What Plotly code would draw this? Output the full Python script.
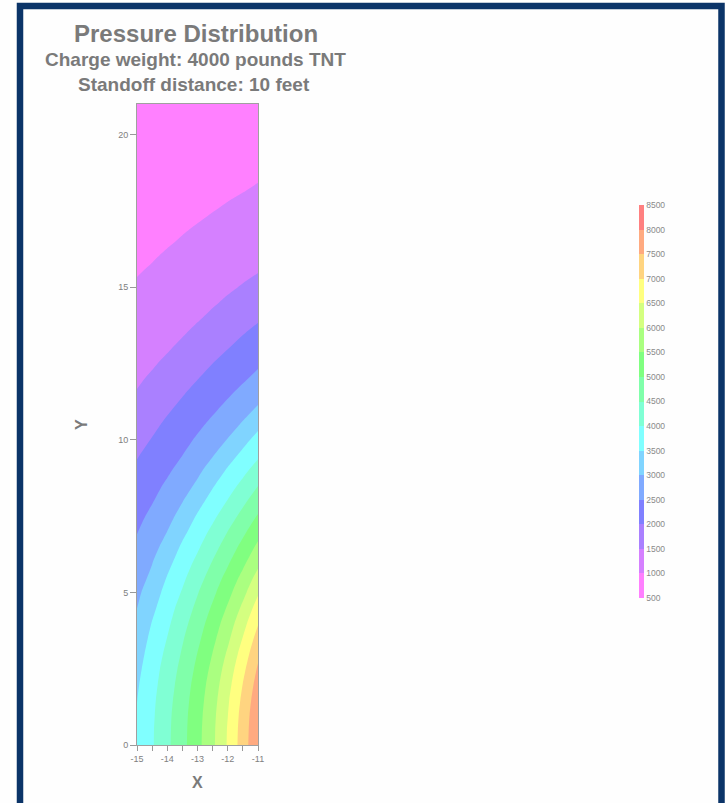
import colorsys
import plotly.graph_objects as go

# Grid coordinates (feet): 9 columns across, rows every half foot from 0 to 21
x_vals = [-15, -14.5, -14, -13.5, -13, -12.5, -12, -11.5, -11]
y_vals = [i * 0.5 for i in range(43)]

# Peak pressure down each column of the grid, listed from y = 0 up to y = 21
p_x150 = [3560, 3550, 3530, 3490, 3440, 3370, 3290, 3190, 3080, 2995, 2900, 2795, 2690, 2585, 2480,
          2375, 2270, 2175, 2070, 1970, 1860, 1750, 1640, 1530, 1440, 1360, 1280, 1205, 1150, 1085,
          1030, 985, 940, 900, 860, 825, 800, 775, 750, 725, 700, 680, 660]
p_x145 = [3950, 3945, 3920, 3890, 3840, 3785, 3710, 3625, 3520, 3390, 3250, 3095, 2980, 2850, 2720,
          2600, 2470, 2360, 2240, 2135, 2020, 1910, 1790, 1675, 1560, 1455, 1370, 1285, 1210, 1150,
          1090, 1030, 980, 935, 900, 855, 820, 795, 770, 740, 720, 695, 670]
p_x140 = [4400, 4390, 4370, 4330, 4270, 4200, 4110, 4010, 3900, 3790, 3670, 3520, 3350, 3160, 3000,
          2855, 2710, 2570, 2430, 2305, 2190, 2070, 1950, 1825, 1700, 1580, 1460, 1380, 1290, 1210,
          1150, 1080, 1030, 975, 930, 890, 850, 815, 790, 760, 740, 710, 690]
p_x135 = [4850, 4840, 4820, 4775, 4720, 4645, 4550, 4450, 4330, 4195, 4040, 3890, 3740, 3575, 3370,
          3150, 2980, 2810, 2650, 2495, 2360, 2230, 2100, 1975, 1850, 1720, 1590, 1465, 1380, 1285,
          1210, 1140, 1070, 1020, 970, 920, 880, 840, 810, 780, 750, 725, 700]
p_x130 = [5350, 5340, 5310, 5265, 5200, 5110, 5010, 4885, 4760, 4620, 4470, 4295, 4110, 3925, 3740,
          3550, 3320, 3080, 2900, 2725, 2560, 2405, 2260, 2125, 1990, 1855, 1720, 1590, 1460, 1370,
          1280, 1200, 1130, 1060, 1010, 955, 910, 870, 830, 800, 770, 745, 720]
p_x125 = [5900, 5890, 5860, 5800, 5730, 5630, 5510, 5370, 5230, 5065, 4890, 4710, 4520, 4320, 4110,
          3890, 3680, 3455, 3190, 2970, 2780, 2600, 2430, 2275, 2140, 2000, 1860, 1720, 1580, 1455,
          1360, 1260, 1190, 1115, 1050, 995, 940, 895, 860, 820, 790, 760, 730]
p_x120 = [6550, 6535, 6490, 6430, 6330, 6215, 6070, 5900, 5740, 5550, 5350, 5150, 4930, 4715, 4500,
          4265, 4020, 3790, 3560, 3280, 3020, 2815, 2620, 2445, 2280, 2140, 1990, 1845, 1700, 1560,
          1440, 1340, 1240, 1170, 1090, 1030, 980, 925, 880, 840, 810, 775, 750]
p_x115 = [7250, 7230, 7190, 7110, 7010, 6870, 6710, 6520, 6320, 6100, 5860, 5630, 5380, 5140, 4890,
          4640, 4390, 4130, 3870, 3620, 3340, 3050, 2840, 2630, 2440, 2280, 2130, 1980, 1830, 1680,
          1530, 1415, 1310, 1220, 1150, 1070, 1010, 960, 910, 865, 830, 795, 760]
p_x110 = [7950, 7930, 7890, 7810, 7700, 7560, 7390, 7190, 6960, 6710, 6440, 6160, 5870, 5600, 5310,
          5040, 4760, 4490, 4210, 3920, 3670, 3370, 3060, 2840, 2620, 2430, 2260, 2100, 1950, 1790,
          1640, 1490, 1390, 1280, 1200, 1120, 1050, 990, 940, 890, 850, 810, 780]

columns = [p_x150, p_x145, p_x140, p_x135, p_x130, p_x125, p_x120, p_x115, p_x110]
for col in columns:
    assert len(col) == len(y_vals)

# z is indexed [row = y][column = x]
pressure = [[col[j] for col in columns] for j in range(len(y_vals))]

# Contour levels and colour-bar labels
level_start = 500
level_end = 8500
level_step = 500
level_vals = list(range(level_start, level_end + 1, level_step))
level_labels = [str(v) for v in level_vals]

x_tick_vals = [-15, -14, -13, -12, -11]
y_tick_vals = [0, 5, 10, 15, 20]

title_text = "Pressure Distribution"
subtitle_1 = "Charge weight: 4000 pounds TNT"
subtitle_2 = "Standoff distance: 10 feet"


def pastel(h):
    r, g, b = colorsys.hls_to_rgb(h / 360.0, 0.75, 1.0)
    return "#%02x%02x%02x" % (round(r * 255), round(g * 255), round(b * 255))


# Stepped pastel rainbow: one flat colour per band,
# magenta (lowest) -> blue -> cyan -> green -> yellow -> red (highest)
n_bands = len(level_vals) - 1
colorscale = []
for k in range(n_bands):
    c = pastel(300 - 300 * k / (n_bands - 1))
    colorscale.append([k / n_bands, c])
    colorscale.append([(k + 1) / n_bands, c])

W, H = 725, 803
L, R, T, B = 137, 467, 104, 58
plot_w = W - L - R
plot_h = H - T - B


def px_to_paper_x(px):
    return (px - L) / plot_w


def px_to_paper_y(py):
    return (H - B - py) / plot_h


grey = "#7a7a7a"
font_main = "Liberation Sans, Arial, sans-serif"

fig = go.Figure(
    go.Contour(
        x=x_vals,
        y=y_vals,
        z=pressure,
        colorscale=colorscale,
        zmin=level_start,
        zmax=level_end,
        contours=dict(start=level_start, end=level_end, size=level_step,
                      coloring="fill", showlines=False),
        line=dict(width=0, smoothing=0.6),
        colorbar=dict(
            xref="container", x=639 / W, xanchor="left",
            yref="paper", y=px_to_paper_y(401.5), yanchor="middle",
            len=393, lenmode="pixels",
            thickness=5, thicknessmode="pixels",
            outlinewidth=0,
            ticks="",
            tickvals=level_vals,
            ticktext=level_labels,
            tickfont=dict(family=font_main, size=8.5, color="#8a8a8a"),
            xpad=0, ypad=0,
        ),
        hoverinfo="x+y+z",
    )
)

fig.update_xaxes(
    range=[-15, -11],
    tickvals=x_tick_vals,
    ticktext=[str(v) for v in x_tick_vals],
    ticks="outside", ticklen=5, tickwidth=1, tickcolor="#999999",
    minor=dict(dtick=0.5, ticks="outside", ticklen=5, tickwidth=1, tickcolor="#999999"),
    tickfont=dict(family=font_main, size=9, color="#808080"),
    showline=True, linecolor="#a0a0a0", linewidth=1, mirror=True,
    showgrid=False, zeroline=False,
)
fig.update_yaxes(
    range=[0, 21],
    tickvals=y_tick_vals,
    ticks="outside", ticklen=6, tickwidth=1, tickcolor="#999999",
    tickfont=dict(family=font_main, size=9, color="#808080"),
    showline=True, linecolor="#a0a0a0", linewidth=1, mirror=True,
    showgrid=False, zeroline=False,
)

annotations = [
    dict(text="<b>" + title_text + "</b>", x=px_to_paper_x(196), y=px_to_paper_y(33),
         font=dict(family=font_main, size=24, color=grey)),
    dict(text="<b>" + subtitle_1 + "</b>", x=px_to_paper_x(195), y=px_to_paper_y(60),
         font=dict(family=font_main, size=19, color=grey)),
    dict(text="<b>" + subtitle_2 + "</b>", x=px_to_paper_x(194), y=px_to_paper_y(84),
         font=dict(family=font_main, size=19, color=grey)),
    dict(text="<b>X</b>", x=px_to_paper_x(197), y=px_to_paper_y(782),
         font=dict(family=font_main, size=16, color=grey)),
    dict(text="<b>Y</b>", x=px_to_paper_x(81), y=px_to_paper_y(425), textangle=-90,
         font=dict(family=font_main, size=16, color=grey)),
]
for a in annotations:
    a.update(xref="paper", yref="paper", showarrow=False,
             xanchor="center", yanchor="middle")

# Dark navy frame around the page
frame = dict(
    type="rect", xref="paper", yref="paper", layer="above",
    x0=px_to_paper_x(20), x1=px_to_paper_x(721.5),
    y0=px_to_paper_y(815), y1=px_to_paper_y(6),
    line=dict(color="#0b3468", width=6.5), fillcolor="rgba(0,0,0,0)",
)

fig.update_layout(
    width=W, height=H,
    margin=dict(l=L, r=R, t=T, b=B, pad=0),
    paper_bgcolor="#fefefe",
    plot_bgcolor="#ffffff",
    annotations=annotations,
    shapes=[frame],
    showlegend=False,
)

fig.write_html("out.html")
